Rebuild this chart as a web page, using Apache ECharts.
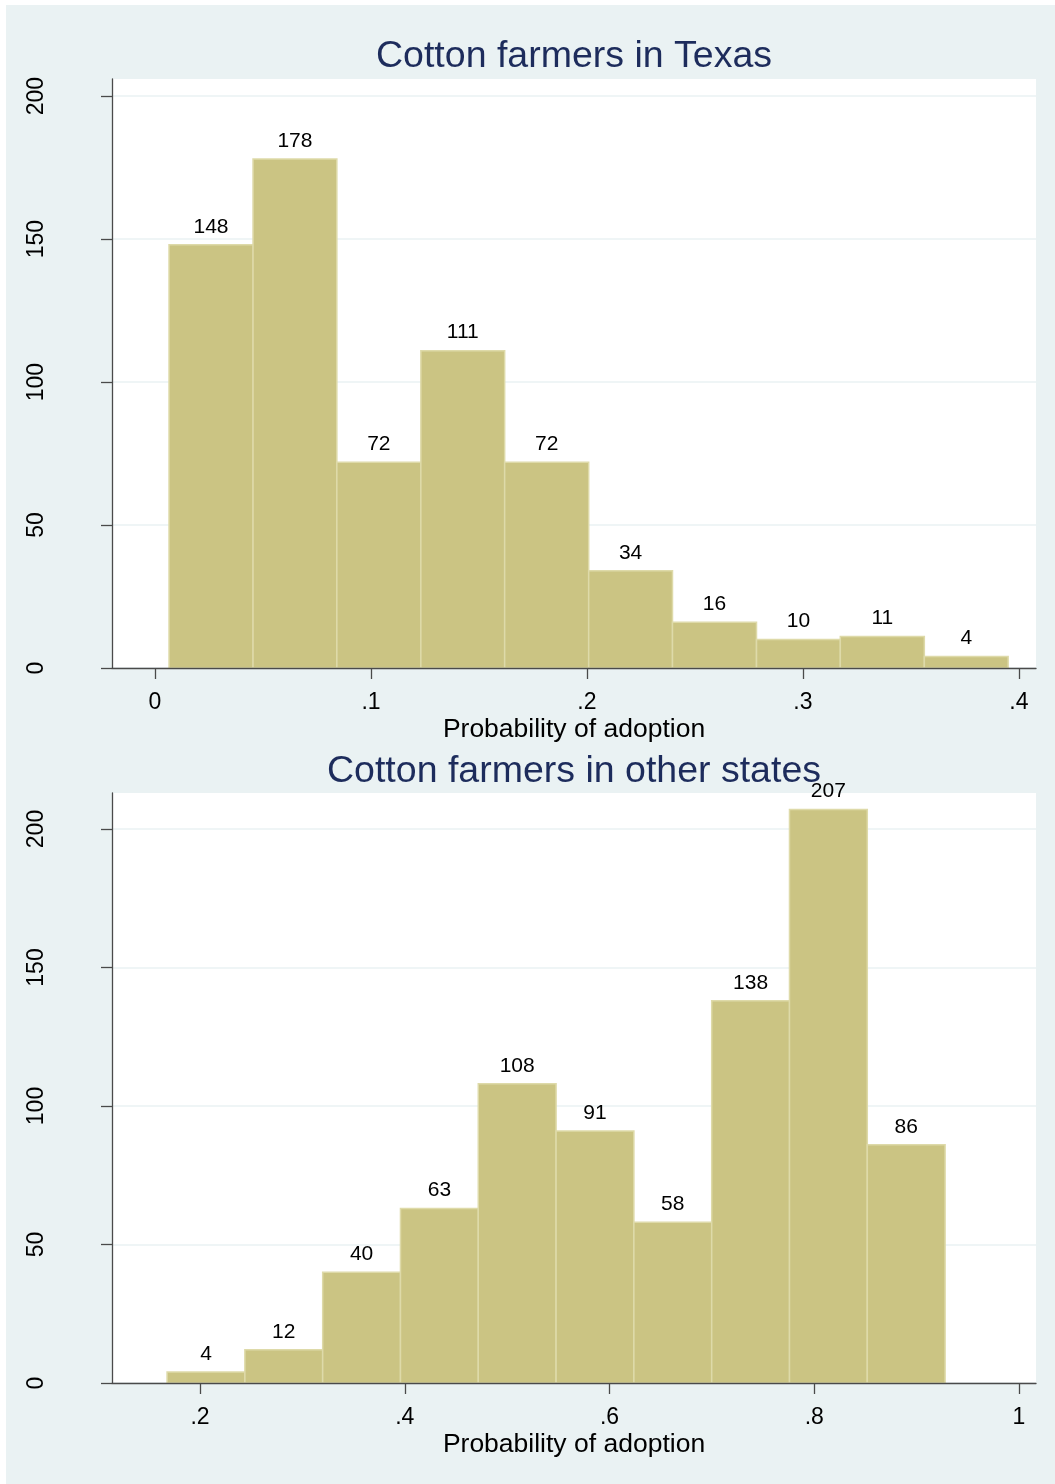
<!DOCTYPE html>
<html>
<head>
<meta charset="utf-8">
<title>Probability of adoption</title>
<script src="https://cdn.jsdelivr.net/npm/echarts@6/dist/echarts.min.js"></script>
<style>
  html, body { margin: 0; padding: 0; background: #ffffff; }
  #bg { position: absolute; left: 6px; top: 5px; width: 1049px; height: 1479px; background: #EAF2F3; }
  #chart { position: absolute; left: 0; top: 0; width: 1055px; height: 1484px; }
</style>
</head>
<body>
<div id="bg"></div>
<div id="chart"></div>
<script>
// Histogram bin edges and frequencies
const texasEdges = [0.0065, 0.0454, 0.0842, 0.1231, 0.1619, 0.2008, 0.2396, 0.2785, 0.3173, 0.3562, 0.3950];
const texasCounts = [148, 178, 72, 111, 72, 34, 16, 10, 11, 4];
const otherEdges = [0.1678, 0.2438, 0.3198, 0.3958, 0.4718, 0.5478, 0.6238, 0.6998, 0.7758, 0.8518, 0.9278];
const otherCounts = [4, 12, 40, 63, 108, 91, 58, 138, 207, 86];

// Axis ticks
const texasTicks = [0, 0.1, 0.2, 0.3, 0.4];
const otherTicks = [0.2, 0.4, 0.6, 0.8, 1];
const countTicks = [0, 50, 100, 150, 200];

const panelTitles = ['Cotton farmers in Texas', 'Cotton farmers in other states'];
const xTitle = 'Probability of adoption';

const FONT = '"Liberation Sans", Arial, Helvetica, sans-serif';
const BAR_FILL = '#CBC483';
const BAR_EDGE = '#DEDAA9';
const AXIS_COLOR = '#4a4a4a';
const GRID_COLOR = '#EAF2F3';
const TITLE_COLOR = '#1D2C5C';

function toBins(edges, counts) {
  return counts.map((c, i) => [edges[i], edges[i + 1], c]);
}

function fmtProb(v) {
  if (v === 0) return '0';
  if (v === 1) return '1';
  return String(+v.toFixed(2)).replace(/^0\./, '.');
}

// One bar per bin, with its frequency written above it
function renderBins(params, api) {
  const x0 = api.value(0), x1 = api.value(1), n = api.value(2);
  const top = api.coord([x0, n]);
  const base = api.coord([x1, 0]);
  return {
    type: 'group',
    children: [
      {
        type: 'rect',
        shape: { x: top[0], y: top[1], width: base[0] - top[0], height: base[1] - top[1] },
        style: { fill: BAR_FILL, stroke: BAR_EDGE, lineWidth: 1.5 }
      },
      {
        type: 'text',
        x: (top[0] + base[0]) / 2,
        y: top[1] - 18,
        style: {
          text: String(n), align: 'center', verticalAlign: 'middle',
          fontFamily: FONT, fontSize: 21, fill: '#000'
        }
      }
    ]
  };
}

function xAxisFor(gridIndex, min, max, ticks) {
  return {
    type: 'value', gridIndex, min, max, z: 3,
    axisLine: { show: true, onZero: false, lineStyle: { color: AXIS_COLOR, width: 1.3 } },
    axisTick: { show: true, length: 11, customValues: ticks, lineStyle: { color: AXIS_COLOR, width: 1.3 } },
    axisLabel: { customValues: ticks, margin: 23, formatter: fmtProb, fontFamily: FONT, fontSize: 23, color: '#000' },
    splitLine: { show: false },
    name: xTitle, nameLocation: 'middle', nameGap: 48,
    nameTextStyle: { fontFamily: FONT, fontSize: 26.5, color: '#000' }
  };
}

function yAxisFor(gridIndex, max) {
  return {
    type: 'value', gridIndex, min: 0, max,
    axisLine: { show: true, onZero: false, lineStyle: { color: AXIS_COLOR, width: 1.3 } },
    axisTick: { show: true, length: 11, customValues: countTicks, lineStyle: { color: AXIS_COLOR, width: 1.3 } },
    axisLabel: { customValues: countTicks, rotate: 90, margin: 64, fontFamily: FONT, fontSize: 23, color: '#000' },
    splitLine: { show: true, lineStyle: { color: GRID_COLOR, width: 1.6 } }
  };
}

const chart = echarts.init(document.getElementById('chart'), null, { renderer: 'canvas' });

chart.setOption({
  backgroundColor: 'transparent',
  animation: false,
  title: [
    { text: panelTitles[0], left: 574, top: 38, textAlign: 'center', padding: 0,
      textStyle: { fontFamily: FONT, fontSize: 37.5, fontWeight: 'normal', color: TITLE_COLOR } },
    { text: panelTitles[1], left: 574, top: 753, textAlign: 'center', padding: 0,
      textStyle: { fontFamily: FONT, fontSize: 37.5, fontWeight: 'normal', color: TITLE_COLOR } }
  ],
  grid: [
    { left: 112, right: 19, top: 79, height: 589, show: true, backgroundColor: '#ffffff', borderWidth: 0 },
    { left: 112, right: 19, top: 793, height: 590, show: true, backgroundColor: '#ffffff', borderWidth: 0 }
  ],
  xAxis: [
    xAxisFor(0, -0.0199, 0.4079, texasTicks),
    xAxisFor(1, 0.1140, 1.0166, otherTicks)
  ],
  yAxis: [
    yAxisFor(0, 206),
    yAxisFor(1, 213)
  ],
  series: [
    { type: 'custom', xAxisIndex: 0, yAxisIndex: 0, renderItem: renderBins,
      encode: { x: [0, 1], y: 2 }, data: toBins(texasEdges, texasCounts) },
    { type: 'custom', xAxisIndex: 1, yAxisIndex: 1, renderItem: renderBins,
      encode: { x: [0, 1], y: 2 }, data: toBins(otherEdges, otherCounts) }
  ]
});
</script>
</body>
</html>
